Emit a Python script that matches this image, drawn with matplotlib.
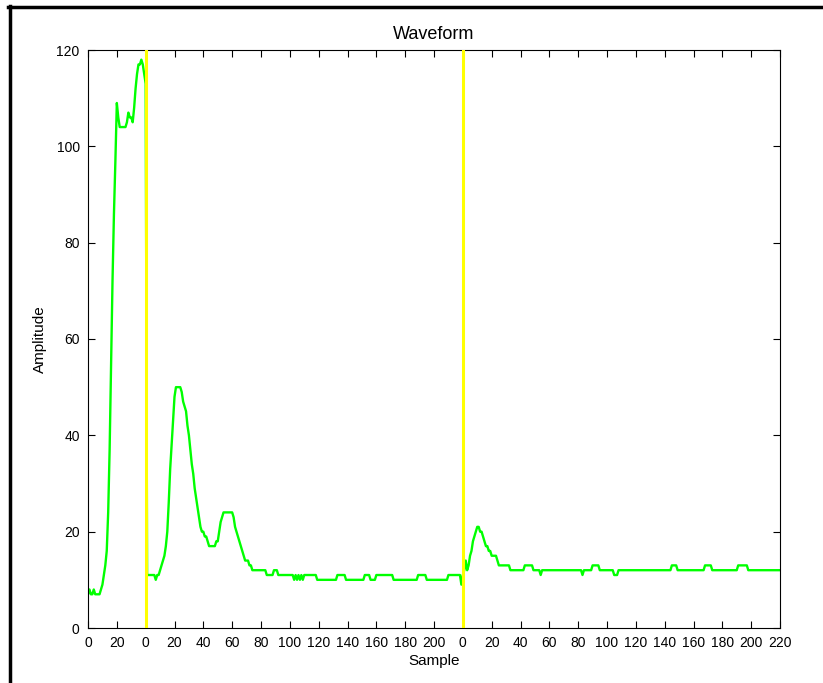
import numpy as np
import matplotlib.pyplot as plt
from matplotlib.lines import Line2D

# waveform amplitudes, one value per sample
seg1 = [7, 8, 7, 7, 8, 7, 7, 7, 7, 8,
        9, 11, 13, 16, 24, 37, 55, 72, 86, 97,
        109, 106, 104, 104, 104, 104, 104, 105, 107, 106,
        106, 105, 108, 112, 115, 117, 117, 118, 117, 115]

seg2 = [113, 11, 11, 11, 11, 11, 11, 10, 11, 11,
        12, 13, 14, 15, 17, 20, 26, 33, 38, 43,
        48, 50, 50, 50, 50, 49, 47, 46, 45, 42,
        40, 37, 34, 32, 29, 27, 25, 23, 21, 20,
        20, 19, 19, 18, 17, 17, 17, 17, 17, 18,
        18, 20, 22, 23, 24, 24, 24, 24, 24, 24,
        24, 23, 21, 20, 19, 18, 17, 16, 15, 14,
        14, 14, 13, 13, 12, 12, 12, 12, 12, 12,
        12, 12, 12, 12, 11, 11, 11, 11, 11, 12,
        12, 12, 11, 11, 11, 11, 11, 11, 11, 11,
        11, 11, 11, 10, 11, 10, 11, 10, 11, 10,
        11, 11, 11, 11, 11, 11, 11, 11, 11, 10,
        10, 10, 10, 10, 10, 10, 10, 10, 10, 10,
        10, 10, 10, 11, 11, 11, 11, 11, 11, 10,
        10, 10, 10, 10, 10, 10, 10, 10, 10, 10,
        10, 10, 11, 11, 11, 11, 10, 10, 10, 10,
        11, 11, 11, 11, 11, 11, 11, 11, 11, 11,
        11, 11, 10, 10, 10, 10, 10, 10, 10, 10,
        10, 10, 10, 10, 10, 10, 10, 10, 10, 11,
        11, 11, 11, 11, 11, 10, 10, 10, 10, 10,
        10, 10, 10, 10, 10, 10, 10, 10, 10, 10,
        11, 11, 11, 11, 11, 11, 11, 11, 11, 9]

seg3 = [11, 12, 14, 12, 13, 15, 16, 18, 19, 20,
        21, 21, 20, 20, 19, 18, 17, 17, 16, 16,
        15, 15, 15, 15, 14, 13, 13, 13, 13, 13,
        13, 13, 13, 12, 12, 12, 12, 12, 12, 12,
        12, 12, 12, 13, 13, 13, 13, 13, 13, 12,
        12, 12, 12, 12, 11, 12, 12, 12, 12, 12,
        12, 12, 12, 12, 12, 12, 12, 12, 12, 12,
        12, 12, 12, 12, 12, 12, 12, 12, 12, 12,
        12, 12, 12, 11, 12, 12, 12, 12, 12, 12,
        13, 13, 13, 13, 13, 12, 12, 12, 12, 12,
        12, 12, 12, 12, 12, 11, 11, 11, 12, 12,
        12, 12, 12, 12, 12, 12, 12, 12, 12, 12,
        12, 12, 12, 12, 12, 12, 12, 12, 12, 12,
        12, 12, 12, 12, 12, 12, 12, 12, 12, 12,
        12, 12, 12, 12, 12, 13, 13, 13, 13, 12,
        12, 12, 12, 12, 12, 12, 12, 12, 12, 12,
        12, 12, 12, 12, 12, 12, 12, 12, 13, 13,
        13, 13, 13, 12, 12, 12, 12, 12, 12, 12,
        12, 12, 12, 12, 12, 12, 12, 12, 12, 12,
        12, 13, 13, 13, 13, 13, 13, 13, 12, 12,
        12, 12, 12, 12, 12, 12, 12, 12, 12, 12,
        12, 12, 12, 12, 12, 12, 12, 12, 12, 12,
        12]

# segment start positions on the shared sample axis
seg_starts = [0, 40, 260]
tick_labels = ['0', '20',
               '0', '20', '40', '60', '80', '100', '120', '140', '160', '180', '200',
               '0', '20', '40', '60', '80', '100', '120', '140', '160', '180', '200', '220']

y = np.concatenate([seg1, seg2, seg3])
x = np.arange(len(y))

narrow = ['Liberation Sans Narrow', 'Liberation Sans', 'DejaVu Sans']
plain = ['Liberation Sans', 'DejaVu Sans']

fig = plt.figure(figsize=(8.23, 6.83), dpi=100)
ax = fig.add_axes([88 / 823, 55 / 683, 692 / 823, 578 / 683])

ax.plot(x, y, color='#00ff00', lw=1.7, zorder=2)
for s in seg_starts[1:]:
    ax.axvline(s, color='#ffff00', lw=2.2, zorder=3)

ax.set_xlim(0, 480)
ax.set_ylim(0, 120)
ax.set_xticks(np.arange(0, 481, 20))
ax.set_xticklabels(tick_labels, family=narrow, fontsize=10)
ax.set_yticks(np.arange(0, 121, 20))
ax.set_yticklabels([str(v) for v in range(0, 121, 20)], family=narrow, fontsize=10)
ax.tick_params(direction='in', length=5, width=0.8, top=True, right=True, pad=6)
for sp in ax.spines.values():
    sp.set_linewidth(0.8)

ax.set_title('Waveform', family=plain, fontsize=13, pad=8)
ax.set_xlabel('Sample', family=plain, fontsize=11, labelpad=3)
ax.set_ylabel('Amplitude', family=plain, fontsize=11, labelpad=7)

# frame lines along the left and top edge of the image
fig.add_artist(Line2D([9.5 / 823, 9.5 / 823], [0, 1 - 6 / 683], color='black', lw=2.5))
fig.add_artist(Line2D([8 / 823, 1], [1 - 6.5 / 683, 1 - 6.5 / 683], color='black', lw=2.5))

fig.savefig('out.png', dpi=100)
